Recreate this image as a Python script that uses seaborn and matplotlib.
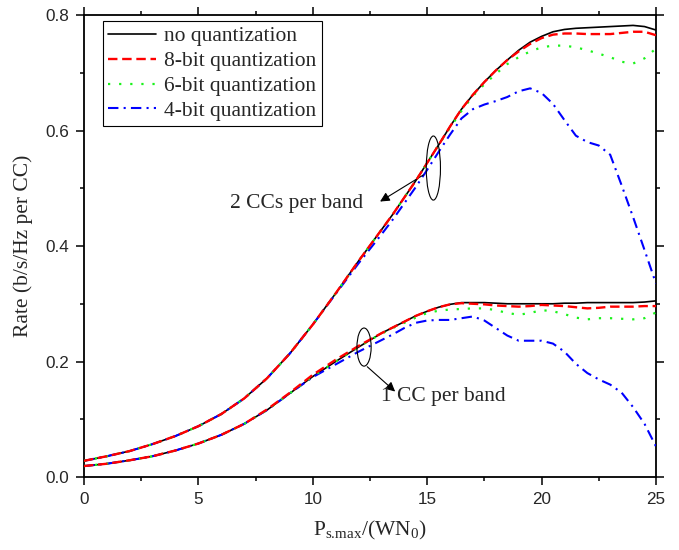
import numpy as np
import pandas as pd
import matplotlib
matplotlib.use('Agg')
import matplotlib.pyplot as plt
from matplotlib.patches import Ellipse
from matplotlib.ticker import MultipleLocator
import seaborn as sns

# 横轴取样点
P_VALUES = [0, 1, 2, 3, 4, 5, 6, 7, 8, 9, 10, 11, 12, 12.5, 13, 13.5, 14, 14.5, 15, 15.5,
            16, 16.5, 17, 17.5, 18, 18.5, 19, 19.5, 20, 20.5, 21, 21.5, 22, 22.5, 23, 23.5,
            24, 24.5, 25]

# 2 CCs per band
TWO_CC_NOQ = [0.028, 0.036, 0.045, 0.057, 0.071, 0.088, 0.109, 0.136, 0.171, 0.214, 0.264,
              0.318, 0.374, 0.401, 0.428, 0.455, 0.484, 0.513, 0.544, 0.575, 0.607, 0.637,
              0.662, 0.684, 0.704, 0.722, 0.739, 0.753, 0.763, 0.771, 0.775, 0.777, 0.778,
              0.779, 0.780, 0.781, 0.782, 0.780, 0.774]
TWO_CC_8BIT = [0.028, 0.036, 0.045, 0.057, 0.071, 0.088, 0.109, 0.136, 0.171, 0.214, 0.264,
               0.318, 0.374, 0.401, 0.428, 0.455, 0.484, 0.513, 0.544, 0.575, 0.607, 0.637,
               0.662, 0.684, 0.704, 0.722, 0.737, 0.750, 0.760, 0.766, 0.768, 0.768, 0.767,
               0.767, 0.767, 0.769, 0.771, 0.771, 0.765]
TWO_CC_6BIT = [0.028, 0.036, 0.045, 0.057, 0.071, 0.088, 0.109, 0.136, 0.171, 0.214, 0.264,
               0.318, 0.374, 0.401, 0.428, 0.455, 0.484, 0.513, 0.544, 0.575, 0.605, 0.634,
               0.660, 0.680, 0.698, 0.715, 0.727, 0.737, 0.744, 0.747, 0.747, 0.744, 0.739,
               0.733, 0.727, 0.719, 0.716, 0.725, 0.742]
TWO_CC_4BIT = [0.028, 0.036, 0.045, 0.057, 0.071, 0.088, 0.109, 0.136, 0.171, 0.214, 0.264,
               0.317, 0.370, 0.395, 0.420, 0.446, 0.474, 0.502, 0.532, 0.563, 0.593, 0.621,
               0.637, 0.645, 0.651, 0.658, 0.668, 0.673, 0.665, 0.646, 0.618, 0.591, 0.580,
               0.574, 0.558, 0.505, 0.450, 0.393, 0.335]

# 1 CC per band
ONE_CC_NOQ = [0.019, 0.023, 0.029, 0.036, 0.046, 0.058, 0.073, 0.092, 0.116, 0.145, 0.174,
              0.200, 0.225, 0.237, 0.249, 0.259, 0.269, 0.279, 0.287, 0.294, 0.299, 0.302,
              0.302, 0.302, 0.301, 0.300, 0.300, 0.300, 0.300, 0.300, 0.301, 0.301, 0.302,
              0.302, 0.302, 0.302, 0.302, 0.303, 0.305]
ONE_CC_8BIT = [0.019, 0.023, 0.029, 0.036, 0.046, 0.058, 0.073, 0.092, 0.117, 0.146, 0.177,
               0.203, 0.227, 0.238, 0.249, 0.259, 0.269, 0.279, 0.287, 0.294, 0.299, 0.301,
               0.300, 0.299, 0.297, 0.296, 0.295, 0.296, 0.298, 0.297, 0.296, 0.294, 0.292,
               0.293, 0.295, 0.295, 0.295, 0.296, 0.296]
ONE_CC_6BIT = [0.019, 0.023, 0.029, 0.036, 0.046, 0.058, 0.073, 0.092, 0.116, 0.145, 0.174,
               0.200, 0.225, 0.237, 0.248, 0.258, 0.267, 0.276, 0.284, 0.288, 0.290, 0.291,
               0.292, 0.292, 0.289, 0.284, 0.281, 0.284, 0.289, 0.287, 0.282, 0.276, 0.273,
               0.275, 0.275, 0.274, 0.273, 0.275, 0.285]
ONE_CC_4BIT = [0.019, 0.023, 0.029, 0.036, 0.046, 0.058, 0.073, 0.092, 0.116, 0.145, 0.173,
               0.195, 0.217, 0.227, 0.237, 0.247, 0.258, 0.267, 0.271, 0.272, 0.272, 0.275,
               0.278, 0.271, 0.258, 0.245, 0.236, 0.236, 0.236, 0.231, 0.217, 0.196, 0.180,
               0.169, 0.160, 0.146, 0.121, 0.092, 0.053]

LEGEND_LABELS = ['no quantization', '8-bit quantization', '6-bit quantization', '4-bit quantization']

OUTPUT_FILE = 'out.png'

if __name__ == '__main__':
    sns.set_style('ticks')
    plt.rcParams['font.family'] = ['Liberation Serif', 'DejaVu Serif']
    plt.rcParams['mathtext.fontset'] = 'custom'
    plt.rcParams['mathtext.rm'] = 'Liberation Serif'
    plt.rcParams['mathtext.it'] = 'Liberation Serif:italic'

    fig = plt.figure(figsize=(6.79, 5.5), dpi=100)
    ax = fig.add_axes([0.1237, 0.1327, 0.8424, 0.84])

    styles = [
        ('black', '-', 1.2, 2),
        ('red', (0, (4, 2)), 1.7, 5),
        ((0.1, 0.95, 0.1), (0, (1, 4)), 1.6, 4),
        ('blue', (0, (5, 2.5, 1, 2.5)), 1.5, 3),
    ]
    groups = [
        [TWO_CC_NOQ, TWO_CC_8BIT, TWO_CC_6BIT, TWO_CC_4BIT],
        [ONE_CC_NOQ, ONE_CC_8BIT, ONE_CC_6BIT, ONE_CC_4BIT],
    ]
    handles = []
    for gi, series in enumerate(groups):
        for si, vals in enumerate(series):
            color, ls, lw, zo = styles[si]
            df = pd.DataFrame({'P': P_VALUES, 'rate': vals})
            sns.lineplot(data=df, x='P', y='rate', ax=ax, color=color, linestyle=ls,
                         linewidth=lw, zorder=zo, legend=False)
            if gi == 0:
                handles.append(ax.lines[-1])

    ax.set_xlim(0, 25)
    ax.set_ylim(0, 0.8)
    ax.xaxis.set_minor_locator(MultipleLocator(2.5))
    ax.yaxis.set_minor_locator(MultipleLocator(0.1))
    ax.set_xticks([0, 5, 10, 15, 20, 25])
    ax.set_xticklabels(['0', '5', '10', '15', '20', '25'])
    ax.set_yticks([0.0, 0.2, 0.4, 0.6, 0.8])
    ax.set_yticklabels(['0.0', '0.2', '0.4', '0.6', '0.8'])

    for side in ['left', 'right', 'top', 'bottom']:
        ax.spines[side].set_visible(True)
        ax.spines[side].set_linewidth(1.3)
        ax.spines[side].set_color('black')
    ax.tick_params(which='both', direction='out', top=True, right=True, width=1.1,
                   color='black', labelsize=12.3, labelfontfamily='Liberation Sans', pad=5)
    ax.tick_params(which='major', length=5.5)
    ax.tick_params(which='minor', length=3)

    ax.set_xlabel(r'P$_{\text{s.max}}$/(WN$_{\text{0}}$)', fontsize=15.5, labelpad=9)
    ax.set_ylabel('Rate (b/s/Hz per CC)', fontsize=15.5, labelpad=9)

    leg = ax.legend(handles, LEGEND_LABELS, loc='upper left', bbox_to_anchor=(0.033, 0.987),
                    borderaxespad=0, fontsize=15.5, frameon=True, fancybox=False,
                    edgecolor='black', framealpha=1, labelspacing=0.22, borderpad=0.25,
                    handlelength=2.2, handletextpad=0.4)
    leg.get_frame().set_linewidth(0.8)

    # 椭圆标注
    ax.add_patch(Ellipse((15.27, 0.535), 0.62, 0.111, fill=False, edgecolor='black', lw=0.8, zorder=6))
    ax.add_patch(Ellipse((12.24, 0.225), 0.62, 0.066, fill=False, edgecolor='black', lw=0.8, zorder=6))
    ax.annotate('', xy=(12.94, 0.477), xytext=(14.83, 0.523),
                arrowprops=dict(arrowstyle='-|>', color='black', lw=0.8, mutation_scale=14,
                                shrinkA=0, shrinkB=0))
    ax.text(9.3, 0.474, '2 CCs per band', fontsize=15.5, ha='center', va='center')
    ax.annotate('', xy=(13.6, 0.148), xytext=(12.38, 0.191),
                arrowprops=dict(arrowstyle='-|>', color='black', lw=0.8, mutation_scale=14,
                                shrinkA=0, shrinkB=0))
    ax.text(15.7, 0.140, '1 CC per band', fontsize=15.5, ha='center', va='center')

    plt.savefig(OUTPUT_FILE, dpi=100)
    plt.close()
